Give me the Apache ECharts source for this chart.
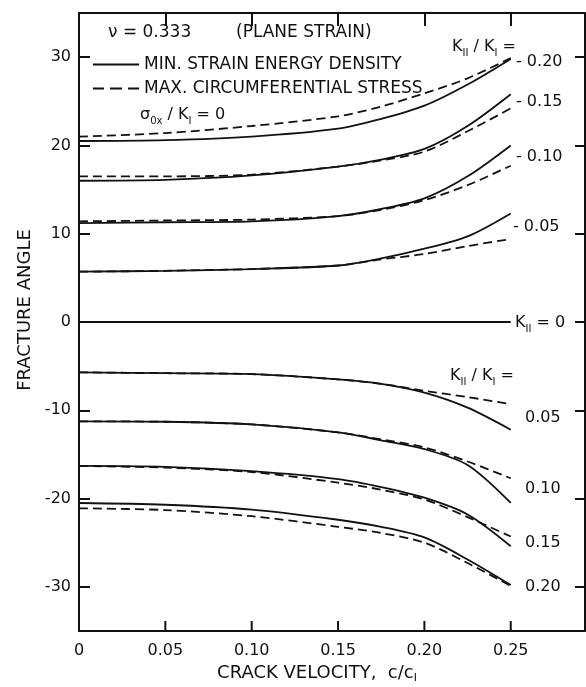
<!DOCTYPE html>
<html>
<head>
<meta charset="utf-8">
<script src="https://cdn.jsdelivr.net/npm/echarts@6/dist/echarts.min.js"></script>
<style>
  html, body { margin: 0; padding: 0; background: #fff; }
  #chart { width: 586px; height: 687px; }
</style>
</head>
<body>
<div id="chart"></div>
<script>
// crack velocity c/c1
let velocity = [0, 0.05, 0.10, 0.15, 0.175, 0.20, 0.225, 0.25];

// min. strain energy density (solid)
let sedPos20 = [20.5, 20.6, 21.0, 21.9, 23.0, 24.5, 26.9, 29.8];
let sedPos15 = [16.0, 16.1, 16.6, 17.6, 18.4, 19.6, 22.2, 25.8];
let sedPos10 = [11.2, 11.3, 11.4, 12.0, 12.8, 14.0, 16.5, 20.0];
let sedPos05 = [5.7, 5.8, 6.0, 6.4, 7.2, 8.3, 9.7, 12.3];
let zeroLine = [0, 0, 0, 0, 0, 0, 0, 0];
let sedNeg05 = [-5.7, -5.8, -5.9, -6.5, -7.0, -8.0, -9.7, -12.2];
let sedNeg10 = [-11.25, -11.3, -11.6, -12.5, -13.4, -14.4, -16.2, -20.5];
let sedNeg15 = [-16.3, -16.4, -16.9, -17.8, -18.7, -19.9, -21.8, -25.4];
let sedNeg20 = [-20.5, -20.7, -21.25, -22.4, -23.2, -24.4, -26.9, -29.8];

// max. circumferential stress (dashed)
let mcsPos20 = [21.0, 21.4, 22.2, 23.3, 24.4, 25.9, 27.6, 29.9];
let mcsPos15 = [16.5, 16.5, 16.7, 17.6, 18.3, 19.3, 21.6, 24.2];
let mcsPos10 = [11.4, 11.5, 11.6, 12.0, 12.7, 13.8, 15.5, 17.7];
let mcsPos05 = [5.7, 5.8, 6.0, 6.4, 7.1, 7.7, 8.6, 9.4];
let mcsNeg05 = [-5.7, -5.8, -5.9, -6.5, -7.0, -7.8, -8.5, -9.3];
let mcsNeg10 = [-11.25, -11.3, -11.6, -12.5, -13.3, -14.2, -15.8, -17.7];
let mcsNeg15 = [-16.3, -16.5, -17.0, -18.2, -19.0, -20.1, -22.1, -24.3];
let mcsNeg20 = [-21.1, -21.3, -22.0, -23.2, -23.9, -25.0, -27.3, -29.9];

let xTicks = [0.05, 0.10, 0.15, 0.20, 0.25];
let yTicks = [-30, -20, -10, 0, 10, 20, 30];

let SOLID = 'MIN. STRAIN ENERGY DENSITY';
let DASHED = 'MAX. CIRCUMFERENTIAL STRESS';
let ink = '#111';
let font = 'DejaVu Sans';

let chart = echarts.init(document.getElementById('chart'));

function curve(name, values, dashed) {
  return {
    name: name,
    type: 'line',
    smooth: 0.3,
    symbol: 'none',
    silent: true,
    data: velocity.map((v, i) => [v, values[i]]),
    lineStyle: { color: ink, width: 1.8, type: dashed ? [9, 5] : 'solid' },
    itemStyle: { color: ink }
  };
}

let rich = {
  b: { fontSize: 16, fontFamily: font, color: ink, lineHeight: 22, verticalAlign: 'middle' },
  w: { fontSize: 17, fontFamily: font, color: ink, lineHeight: 22, verticalAlign: 'middle' },
  s: { fontSize: 10, fontFamily: font, color: ink, lineHeight: 22, verticalAlign: 'bottom' }
};

function note(x, y, text) {
  return {
    type: 'text',
    x: x,
    y: y,
    silent: true,
    style: { text: text, rich: rich, fill: ink, font: '16px ' + font, verticalAlign: 'middle' }
  };
}

function frameLine() {
  return { onZero: false, lineStyle: { color: ink, width: 2 } };
}

function frameTick(len) {
  return { inside: true, length: len, lineStyle: { color: ink, width: 2 } };
}

// only label the round velocity values, not the axis end
function velocityLabel(v) {
  let k = Math.round(v / 0.05);
  if (Math.abs(v - k * 0.05) > 1e-6) return '';
  return k === 0 ? '0' : (k * 0.05).toFixed(2);
}

let notes = [
  note(108, 33, '{w|ν = 0.333}'),
  note(236, 33, '{w|(PLANE STRAIN)}'),
  note(140, 115, '{b|σ}{s|0x}{b| / K}{s|I}{b| = 0}'),
  note(452, 47, '{b|K}{s|II}{b| / K}{s|I}{b| =}'),
  note(516, 62, '{b|- 0.20}'),
  note(516, 102, '{b|- 0.15}'),
  note(516, 157, '{b|- 0.10}'),
  note(513, 227, '{b|- 0.05}'),
  note(515, 323, '{b|K}{s|II}{b| = 0}'),
  note(450, 376, '{b|K}{s|II}{b| / K}{s|I}{b| =}'),
  note(525, 418, '{b|0.05}'),
  note(525, 489, '{b|0.10}'),
  note(525, 543, '{b|0.15}'),
  note(525, 587, '{b|0.20}')
];

let option = {
  animation: false,
  grid: { left: 79, top: 13, right: 1, bottom: 56, outerBoundsMode: 'none' },
  legend: {
    data: [
      { name: SOLID, icon: 'path://M0,0H46V2H0Z' },
      { name: DASHED, icon: 'path://M0,0H11V2H0Z M17,0H29V2H17Z M35,0H46V2H35Z' }
    ],
    orient: 'vertical',
    left: 88,
    top: 51,
    itemWidth: 46,
    itemHeight: 2,
    itemGap: 7,
    selectedMode: false,
    itemStyle: { color: ink },
    textStyle: { fontFamily: font, fontSize: 17, color: ink }
  },
  xAxis: [{
    type: 'value',
    min: 0,
    max: 0.293,
    interval: 0.05,
    splitLine: { show: false },
    axisLine: frameLine(),
    axisTick: { show: false },
    axisLabel: {
      margin: 12,
      fontFamily: font, fontSize: 16, color: ink,
      formatter: velocityLabel
    },
    name: 'CRACK VELOCITY,  c/c{s|I}',
    nameLocation: 'middle',
    nameGap: 27,
    nameTextStyle: {
      fontFamily: font, fontSize: 18, color: ink,
      padding: [0, 30, 0, 0],
      rich: { s: { fontFamily: font, fontSize: 11, color: ink, padding: [10, 0, 0, 0] } }
    }
  }, {
    type: 'value',
    position: 'top',
    min: 0,
    max: 0.293,
    interval: 0.05,
    splitLine: { show: false },
    axisLine: frameLine(),
    axisTick: { show: false },
    axisLabel: { show: false }
  }, {
    // tick marks hanging from the top frame
    type: 'value',
    position: 'top',
    offset: -13,
    min: 0,
    max: 0.293,
    splitLine: { show: false },
    axisLine: { show: false, onZero: false },
    axisTick: { inside: false, length: 13, customValues: xTicks, lineStyle: { color: ink, width: 2 } },
    axisLabel: { show: false }
  }],
  yAxis: [{
    type: 'value',
    min: -35,
    max: 35,
    interval: 5,
    splitLine: { show: false },
    axisLine: frameLine(),
    axisTick: Object.assign(frameTick(11), { customValues: yTicks }),
    axisLabel: { customValues: yTicks, margin: 8, fontFamily: font, fontSize: 16, color: ink },
    name: 'FRACTURE ANGLE',
    nameLocation: 'middle',
    nameGap: 45,
    nameTextStyle: { fontFamily: font, fontSize: 18, color: ink, padding: [0, 0, 0, 24] }
  }, {
    type: 'value',
    position: 'right',
    min: -35,
    max: 35,
    interval: 5,
    splitLine: { show: false },
    axisLine: frameLine(),
    axisTick: Object.assign(frameTick(10), { customValues: yTicks }),
    axisLabel: { show: false }
  }],
  graphic: notes,
  series: [
    curve(SOLID, sedPos20, false),
    curve(SOLID, sedPos15, false),
    curve(SOLID, sedPos10, false),
    curve(SOLID, sedPos05, false),
    curve('K_II = 0', zeroLine, false),
    curve(SOLID, sedNeg05, false),
    curve(SOLID, sedNeg10, false),
    curve(SOLID, sedNeg15, false),
    curve(SOLID, sedNeg20, false),
    curve(DASHED, mcsPos20, true),
    curve(DASHED, mcsPos15, true),
    curve(DASHED, mcsPos10, true),
    curve(DASHED, mcsPos05, true),
    curve(DASHED, mcsNeg05, true),
    curve(DASHED, mcsNeg10, true),
    curve(DASHED, mcsNeg15, true),
    curve(DASHED, mcsNeg20, true)
  ]
};

chart.setOption(option);

// inside ticks on the bottom frame, placed through the axis scale
let frameBottom = chart.convertToPixel({ yAxisIndex: 0 }, -35);
let bottomTicks = xTicks.map(v => {
  let x = chart.convertToPixel({ xAxisIndex: 0 }, v);
  return {
    type: 'line',
    z: 100,
    silent: true,
    shape: { x1: x, y1: frameBottom, x2: x, y2: frameBottom - 10 },
    style: { stroke: ink, lineWidth: 2 }
  };
});
chart.setOption({ graphic: notes.concat(bottomTicks) });
</script>
</body>
</html>
